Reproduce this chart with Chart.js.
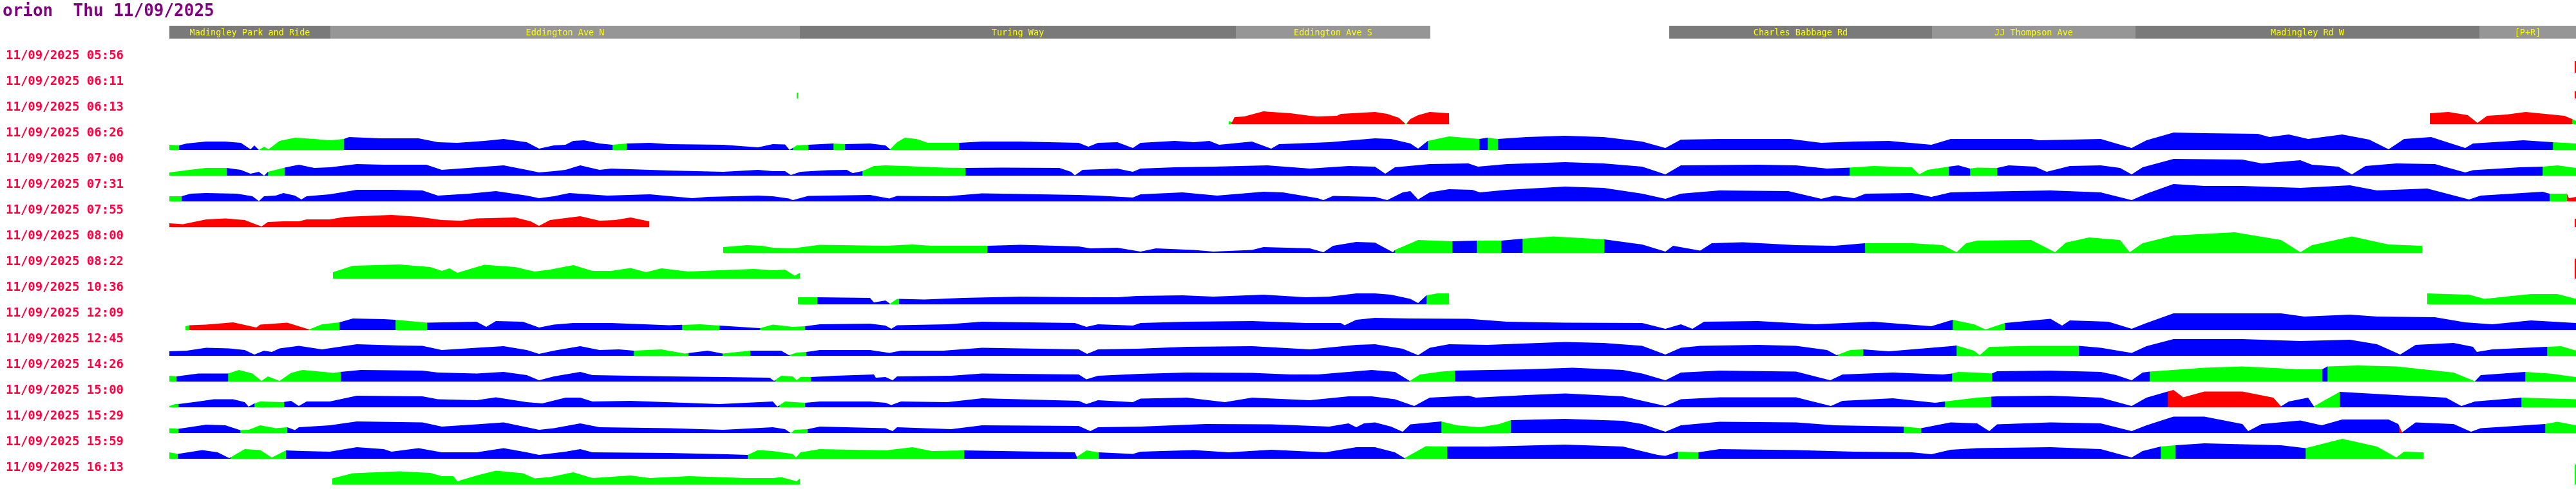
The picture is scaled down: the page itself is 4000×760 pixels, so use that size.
<!DOCTYPE html>
<html>
<head>
<meta charset="utf-8">
<script src="https://cdn.jsdelivr.net/npm/chart.js@4.4.1/dist/chart.umd.min.js"></script>
<style>
  html, body { margin: 0; padding: 0; background: #fff; }
</style>
</head>
<body>
<canvas id="busChart" width="4000" height="760"></canvas>
<script>
const chartTitle = "orion  Thu 11/09/2025";

const tripLabels = [
  "11/09/2025 05:56", "11/09/2025 06:11", "11/09/2025 06:13", "11/09/2025 06:26",
  "11/09/2025 07:00", "11/09/2025 07:31", "11/09/2025 07:55", "11/09/2025 08:00",
  "11/09/2025 08:22", "11/09/2025 10:36", "11/09/2025 12:09", "11/09/2025 12:45",
  "11/09/2025 14:26", "11/09/2025 15:00", "11/09/2025 15:29", "11/09/2025 15:59",
  "11/09/2025 16:13"
];

// route sections (distance along route)
const stopNames = ["Madingley Park and Ride", "Eddington Ave N", "Turing Way", "Eddington Ave S",
  "Charles Babbage Rd", "JJ Thompson Ave", "Madingley Rd W", "[P+R]"];
const stopFrom = [0, 250, 979, 1656, 2329, 2737, 3053, 3587];
const stopTo = [250, 979, 1656, 1958, 2737, 3053, 3587, 3737];

// each trip: [distance, speed] points, and status runs [from, to, status]
const p0556 = [[3735, 18], [3737, 18]];
const r0556 = [[3735, 3737, "R"]];

const p0611 = [[974, 9], [976, 9], [3735, 11], [3737, 11]];
const r0611 = [[974, 976, "G"], [3735, 3737, "R"]];

const p0613 = [[1645, 5], [1650, 3], [1654, 11], [1669, 12], [1699, 20], [1711, 19], [1741, 17], [1771, 13], [1783, 12], [1813, 13], [1819, 16], [1872, 19], [1891, 16], [1909, 10], [1920, 0], [1927, 8], [1939, 14], [1957, 19], [1987, 17],
  [3510, 17], [3539, 19], [3569, 14], [3584, 2], [3599, 13], [3629, 15], [3659, 19], [3689, 16], [3719, 13], [3731, 8], [3737, 5]];
const r0613 = [[1645, 1649, "G"], [1649, 1918, "R"], [1918, 1922, "G"], [1922, 1987, "R"], [3510, 3731, "R"], [3731, 3737, "G"]];

const p0626 = [[0, 8], [15, 7], [27, 10], [57, 13], [87, 13], [111, 11], [126, 1], [132, 7], [139, 0], [147, 5], [154, 1], [171, 14], [195, 19], [225, 17], [249, 15], [271, 17], [279, 20], [327, 18], [387, 18], [417, 12], [447, 11], [489, 14], [519, 17], [555, 12], [574, 2], [597, 7], [615, 8], [627, 14], [644, 15], [668, 10], [688, 8], [710, 10], [746, 11], [776, 9], [860, 8], [914, 4], [937, 9],
  [956, 8.5], [963, 0], [968, 3], [974, 7], [992, 8], [1031, 10], [1049, 9], [1088, 10], [1112, 7], [1119, 1], [1130, 12], [1142, 19], [1160, 17], [1178, 11], [1226, 11], [1262, 13], [1322, 13], [1412, 11], [1427, 5], [1442, 11], [1472, 12], [1496, 3], [1508, 11], [1561, 14], [1591, 12], [1615, 14], [1630, 8], [1681, 13], [1711, 2], [1723, 9], [1801, 12], [1872, 18],
  [1897, 17], [1927, 10], [1939, 2], [1954, 14], [1987, 21], [2034, 17], [2047, 19], [2063, 17], [2107, 20], [2167, 22], [2227, 20], [2287, 13], [2323, 3], [2347, 16], [2407, 17], [2517, 17], [2565, 11], [2616, 13], [2670, 14], [2736, 8], [2766, 17], [2807, 17],
  [2891, 17], [2903, 15], [2999, 17], [3023, 10], [3047, 3], [3070, 15], [3112, 27], [3160, 26], [3243, 25], [3261, 20], [3291, 24], [3321, 17], [3374, 24], [3416, 16], [3446, 1], [3470, 17], [3512, 20], [3565, 3], [3577, 10], [3655, 15], [3701, 12], [3737, 10]];
const r0626 = [[0, 15, "G"], [15, 139, "B"], [139, 271, "G"], [271, 688, "B"], [688, 710, "G"], [710, 968, "B"], [968, 992, "G"], [992, 1031, "B"], [1031, 1049, "G"], [1049, 1119, "B"], [1119, 1226, "G"], [1226, 1954, "B"], [1954, 2034, "G"], [2034, 2047, "B"], [2047, 2063, "G"], [2063, 3701, "B"], [3701, 3737, "G"]];

const p0700 = [[0, 5], [27, 8.5], [57, 12], [89, 12], [111, 9], [126, 3], [139, 6], [147, 0], [153, 6], [179, 12.5], [201, 17], [225, 12], [249, 13], [291, 18], [333, 17], [399, 17], [423, 9], [477, 13], [519, 16], [555, 9], [574, 5], [597, 7], [615, 9], [638, 16], [668, 9], [686, 11], [776, 8], [860, 6], [914, 9], [937, 7],
  [956, 7], [965, 1], [980, 6], [1022, 8.5], [1052, 9], [1061, 4], [1076, 7], [1094, 15], [1112, 16], [1142, 15], [1202, 12.5], [1236, 12], [1292, 12.5], [1382, 12], [1400, 6], [1406, 0.5], [1418, 9], [1472, 11], [1496, 6], [1508, 11], [1561, 13], [1621, 14], [1705, 16], [1771, 11], [1831, 15], [1872, 14],
  [1888, 3], [1903, 13], [1957, 18], [2017, 19], [2032, 14], [2077, 18], [2167, 21], [2227, 19], [2287, 14], [2323, 2], [2347, 16], [2467, 17], [2526, 16], [2574, 11], [2609, 12.5], [2646, 15], [2706, 13], [2717, 2], [2730, 9], [2763, 14], [2778, 16], [2796, 11], [2807, 12.5],
  [2838, 12], [2856, 16], [2897, 14], [2915, 6], [2951, 15], [2999, 16], [3029, 12], [3047, 2], [3064, 13], [3112, 26], [3219, 25], [3249, 19], [3309, 24], [3327, 17], [3368, 14], [3389, 2], [3410, 15], [3458, 19], [3518, 18], [3565, 5], [3577, 8.5], [3649, 13], [3685, 14], [3708, 16], [3737, 12]];
const r0700 = [[0, 89, "G"], [89, 153, "B"], [153, 179, "G"], [179, 1076, "B"], [1076, 1236, "G"], [1236, 2609, "B"], [2609, 2763, "G"], [2763, 2796, "B"], [2796, 2838, "G"], [2838, 3685, "B"], [3685, 3737, "G"]];

const p0731 = [[0, 8], [19, 8], [33, 12], [57, 13], [105, 12], [129, 8], [139, 0.5], [147, 8], [165, 9], [177, 13], [195, 9], [205, 3], [213, 8], [249, 11], [291, 18], [345, 18], [393, 17], [417, 9], [465, 12], [507, 16], [555, 9], [574, 5], [597, 8], [621, 13], [680, 9], [746, 11], [812, 5], [836, 7], [914, 9], [937, 8],
  [962, 4.5], [968, 2], [992, 8.5], [1022, 9], [1088, 10], [1118, 4.5], [1130, 8.5], [1208, 8], [1262, 12.5], [1412, 10], [1442, 9], [1496, 6], [1508, 11], [1573, 14], [1627, 9], [1699, 15], [1729, 14], [1783, 5], [1792, 2], [1807, 8.5], [1872, 7],
  [1891, 2], [1915, 14], [1927, 16], [1939, 3], [1957, 14], [1987, 19], [2023, 18], [2035, 14], [2077, 18], [2167, 23], [2227, 21], [2287, 12], [2323, 4], [2347, 12], [2407, 17], [2514, 16], [2565, 4], [2586, 9], [2616, 5], [2634, 12], [2706, 13], [2736, 7], [2766, 14], [2807, 15],
  [2921, 17], [2999, 14], [3047, 2], [3070, 12], [3112, 27], [3160, 24], [3219, 24], [3309, 21], [3386, 25], [3428, 17], [3506, 20], [3571, 3], [3589, 9], [3685, 15], [3696, 12], [3723, 12], [3726, 5], [3737, 7]];
const r0731 = [[0, 19, "G"], [19, 3696, "B"], [3696, 3723, "G"], [3723, 3737, "R"]];

const p0755 = [[0, 6], [21, 4.5], [57, 12], [87, 13.5], [117, 11], [143, 1], [153, 8], [177, 9], [201, 9], [213, 12], [249, 12], [273, 16], [345, 19], [387, 16], [423, 11], [453, 10], [477, 13.5], [537, 15], [561, 9], [574, 2], [591, 11], [638, 17], [668, 10], [692, 11], [716, 15], [745, 9],
  [3735, 13], [3737, 13]];
const r0755 = [[0, 745, "R"], [3735, 3737, "R"]];

const p0800 = [[860, 9], [896, 12], [920, 11], [937, 8], [968, 7], [1010, 12.5], [1112, 11], [1154, 13], [1184, 11], [1270, 11], [1322, 12.5], [1412, 10], [1430, 7], [1472, 8], [1508, 2], [1532, 7], [1591, 4.5], [1621, 2], [1681, 4.5], [1699, 9], [1771, 7], [1792, 1], [1807, 11], [1843, 17], [1872, 16],
  [1885, 9], [1900, 1], [1903, 4.5], [1939, 20], [1992, 18], [2030, 19], [2068, 19], [2101, 22], [2149, 25.5], [2228, 21], [2287, 13], [2323, 2], [2335, 11], [2377, 3.5], [2395, 15], [2443, 16.5], [2526, 12], [2586, 11], [2633, 15], [2706, 15], [2754, 12], [2775, 1], [2790, 15], [2807, 19],
  [2891, 20], [2928, 1], [2945, 16], [2981, 24], [3029, 20], [3044, 1], [3064, 15], [3112, 27], [3207, 32], [3279, 20], [3309, 1], [3327, 12], [3389, 25.5], [3446, 13], [3498, 11]];
const r0800 = [[860, 1270, "G"], [1270, 1903, "B"], [1903, 1992, "G"], [1992, 2030, "B"], [2030, 2068, "G"], [2068, 2101, "B"], [2101, 2228, "G"], [2228, 2633, "B"], [2633, 3498, "G"]];

const p0822 = [[254, 10], [285, 20], [357, 22], [405, 18], [423, 12], [435, 16], [447, 9], [489, 21.5], [537, 18], [567, 11], [591, 14], [627, 21], [657, 12], [686, 12], [716, 16.5], [740, 10], [764, 16], [806, 11], [854, 13], [908, 15], [937, 13], [956, 14], [971, 4.5], [979, 9],
  [3735, 31], [3737, 31]];
const r0822 = [[254, 979, "G"], [3735, 3737, "R"]];

const p1036 = [[976, 11], [1006, 11], [1088, 10], [1094, 3], [1112, 6], [1119, 1], [1130, 8.5], [1172, 7.5], [1232, 10], [1322, 12], [1424, 11], [1472, 11], [1502, 13], [1573, 14], [1621, 12], [1699, 15], [1765, 11], [1801, 12], [1843, 17], [1872, 17], [1897, 15], [1927, 8.5], [1939, 2], [1952, 14], [1969, 17], [1987, 17],
  [3506, 17], [3536, 16], [3571, 15], [3595, 8.5], [3637, 13], [3667, 16], [3708, 16], [3737, 8.5]];
const r1036 = [[976, 1006, "G"], [1006, 1119, "B"], [1119, 1133, "G"], [1133, 1952, "B"], [1952, 1987, "G"], [3506, 3737, "G"]];

const p1209 = [[25, 6], [31, 7.5], [57, 8.5], [99, 12], [135, 4], [141, 8.5], [183, 11.5], [217, 1], [237, 9], [264, 12], [285, 18], [333, 17], [351, 16], [400, 11.5], [477, 13], [492, 5], [507, 14], [549, 13], [574, 4], [597, 8.5], [627, 11], [686, 11], [776, 7.5], [824, 9], [854, 7], [917, 3], [937, 8.5],
  [968, 5], [987, 6], [1010, 9], [1088, 10], [1112, 7], [1121, 2], [1130, 7.5], [1208, 9], [1262, 13], [1406, 11], [1424, 5], [1442, 9], [1496, 7], [1508, 11], [1580, 13], [1681, 14], [1765, 11], [1819, 11], [1825, 7.5], [1843, 16], [1872, 19],
  [1927, 18], [2017, 17.5], [2077, 13], [2167, 11.5], [2287, 11], [2323, 2], [2347, 9], [2365, 2], [2383, 13], [2467, 14], [2556, 9], [2646, 13], [2736, 6], [2769, 16], [2802, 9], [2820, 1], [2850, 11],
  [2921, 17.5], [2939, 7], [2951, 15], [3011, 13], [3047, 2], [3070, 11], [3112, 26], [3279, 26], [3315, 21], [3386, 24], [3428, 21], [3518, 20], [3565, 12], [3607, 9], [3667, 15], [3737, 11]];
const r1209 = [[25, 31, "G"], [31, 217, "R"], [217, 264, "G"], [264, 351, "B"], [351, 400, "G"], [400, 796, "B"], [796, 854, "G"], [854, 917, "B"], [917, 987, "G"], [987, 2769, "B"], [2769, 2850, "G"], [2850, 3737, "B"]];

const p1245 = [[0, 7], [27, 8], [57, 12.5], [93, 11.5], [117, 9], [132, 2], [147, 8], [159, 6], [171, 11.5], [201, 15.5], [237, 10], [291, 18], [357, 16], [393, 15.5], [423, 9], [477, 12.5], [519, 15], [555, 9], [574, 3], [597, 8], [638, 15], [668, 9], [698, 10], [721, 8], [764, 10], [800, 3.5], [836, 8], [859, 3.5], [902, 8], [937, 8],
  [950, 8], [962, 1], [974, 5], [989, 6], [1010, 9], [1088, 9], [1118, 4.5], [1136, 8], [1202, 8], [1262, 12.5], [1412, 10], [1425, 3], [1442, 10], [1502, 11], [1580, 14], [1681, 15], [1771, 10], [1843, 17], [1872, 18],
  [1915, 11], [1939, 1], [1957, 12.5], [1987, 18], [2047, 17], [2167, 21.5], [2227, 20], [2287, 15.5], [2323, 2], [2347, 12.5], [2377, 15.5], [2467, 17], [2526, 15.5], [2574, 9], [2589, 1], [2610, 9], [2630, 10], [2670, 7], [2706, 10], [2766, 15], [2775, 16], [2802, 8], [2811, 1], [2826, 14],
  [2891, 15.5], [2965, 15.5], [2999, 12.5], [3047, 4.5], [3070, 15], [3112, 26], [3219, 26], [3309, 23], [3386, 25], [3428, 18], [3464, 2], [3488, 17], [3547, 20], [3577, 14], [3583, 6], [3607, 10], [3692, 14], [3714, 15], [3737, 8]];
const r1245 = [[0, 721, "B"], [721, 806, "G"], [806, 859, "B"], [859, 902, "G"], [902, 963, "B"], [963, 989, "G"], [989, 2591, "B"], [2591, 2630, "G"], [2630, 2775, "B"], [2775, 2965, "G"], [2965, 3692, "B"], [3692, 3737, "G"]];

const p1426 = [[0, 9], [11, 8], [45, 12.5], [91, 12.5], [108, 18], [129, 12.5], [143, 1], [153, 8], [171, 1], [189, 13.5], [207, 18], [255, 13.5], [266, 15], [297, 18], [393, 17], [417, 14], [477, 12.5], [519, 15], [555, 10], [574, 2], [597, 8], [638, 15], [657, 10], [776, 8], [860, 7],
  [932, 6], [939, 1], [950, 9], [968, 8], [974, 2], [980, 7], [996, 7], [1034, 9], [1094, 11], [1097, 6], [1112, 7], [1123, 2], [1130, 8], [1214, 9], [1262, 12.5], [1412, 11], [1424, 3.5], [1442, 9], [1508, 12], [1580, 14], [1681, 13.5], [1741, 11], [1783, 11], [1831, 15],
  [1867, 18], [1903, 15], [1926, 1], [1942, 11], [1975, 15.5], [1996, 17], [2107, 19], [2179, 21.5], [2257, 18], [2287, 12.5], [2323, 2], [2347, 14], [2407, 17], [2526, 15.5], [2579, 2], [2598, 11], [2676, 14], [2754, 11], [2768, 12.5], [2778, 15], [2807, 14],
  [2830, 12.5], [2838, 16], [2921, 17], [2999, 15], [3023, 10], [3047, 2], [3064, 14], [3075, 15.5], [3160, 21.5], [3219, 23.5], [3309, 19], [3343, 19], [3351, 23.5], [3398, 25], [3458, 23.5], [3547, 14], [3580, 0.5], [3589, 10], [3658, 15], [3696, 12.5], [3737, 7]];
const r1426 = [[0, 11, "G"], [11, 91, "B"], [91, 266, "G"], [266, 941, "B"], [941, 996, "G"], [996, 1926, "B"], [1926, 1996, "G"], [1996, 2768, "B"], [2768, 2830, "G"], [2830, 3075, "B"], [3075, 3343, "G"], [3343, 3351, "B"], [3351, 3580, "G"], [3580, 3658, "B"], [3658, 3737, "G"]];

const p1500 = [[0, 2], [9, 5], [14, 5], [45, 9], [69, 12.5], [99, 12.5], [117, 8], [123, 1], [132, 6], [141, 9], [177, 8], [189, 10], [201, 2], [213, 9], [249, 9], [291, 18], [393, 17], [417, 12.5], [477, 11], [507, 15.5], [555, 8], [579, 6], [615, 15], [638, 15], [657, 9], [716, 10], [854, 5], [937, 9],
  [944, 1], [956, 9], [987, 7], [1010, 9], [1088, 9], [1112, 7], [1121, 3.5], [1136, 9], [1208, 8], [1262, 14], [1412, 10], [1424, 5], [1442, 11], [1496, 8], [1508, 13.5], [1580, 15], [1639, 8], [1681, 15], [1771, 11], [1831, 17],
  [1867, 17], [1903, 12.5], [1933, 2], [1957, 15], [2017, 18], [2029, 15], [2107, 19], [2167, 21.5], [2257, 17], [2323, 2], [2347, 12.5], [2407, 15.5], [2526, 15.5], [2580, 2], [2598, 10], [2676, 14], [2742, 7], [2757, 9], [2807, 15],
  [2838, 17], [2921, 18], [2999, 15], [3047, 2], [3070, 15], [3103, 24.5], [3112, 27], [3127, 15.5], [3160, 24.5], [3219, 24.5], [3267, 15], [3279, 1.5], [3291, 9], [3321, 15], [3330, 1.5], [3370, 24], [3458, 19], [3535, 15], [3559, 2], [3580, 9], [3652, 15], [3737, 12.5]];
const r1500 = [[0, 14, "G"], [14, 132, "B"], [132, 178, "G"], [178, 947, "B"], [947, 987, "G"], [987, 2757, "B"], [2757, 2829, "G"], [2829, 3103, "B"], [3103, 3279, "R"], [3279, 3330, "B"], [3330, 3370, "G"], [3370, 3652, "B"], [3652, 3737, "G"]];

const p1529 = [[0, 7.5], [14, 6.5], [57, 13], [87, 12], [110, 4.5], [123, 5], [141, 12], [165, 7.5], [183, 9], [195, 4.5], [201, 9], [249, 12], [291, 18], [393, 16.5], [423, 10], [477, 13.5], [519, 16.5], [555, 9], [574, 5], [597, 7.5], [638, 15], [668, 9], [776, 7.5], [860, 5], [937, 9],
  [956, 6], [965, 0], [971, 5], [991, 6], [1010, 10], [1112, 7.5], [1123, 3], [1130, 9], [1214, 6], [1262, 12], [1412, 11], [1430, 3], [1442, 9], [1508, 10], [1609, 14], [1711, 13.5], [1801, 10], [1831, 15], [1843, 9], [1855, 15], [1872, 16.5],
  [1897, 10], [1915, 2], [1927, 13.5], [1975, 18], [1999, 12], [2035, 9], [2065, 14], [2083, 20], [2167, 22], [2257, 19], [2287, 14], [2323, 2], [2347, 12], [2407, 17.5], [2526, 16.5], [2586, 12], [2693, 10], [2720, 7.5], [2766, 16.5], [2807, 15],
  [2826, 3], [2838, 13.5], [2921, 16.5], [2999, 15], [3047, 3], [3070, 12], [3112, 25.5], [3160, 25.5], [3219, 14], [3228, 3], [3249, 14], [3309, 19.5], [3342, 12], [3374, 21], [3446, 21], [3461, 14], [3467, 1], [3488, 16.5], [3547, 14], [3574, 2], [3589, 7.5], [3689, 14], [3708, 17.5], [3737, 12]];
const r1529 = [[0, 14, "G"], [14, 110, "B"], [110, 183, "G"], [183, 965, "B"], [965, 991, "G"], [991, 1975, "B"], [1975, 2083, "G"], [2083, 2693, "B"], [2693, 2720, "G"], [2720, 3462, "B"], [3462, 3467, "R"], [3467, 3689, "B"], [3689, 3737, "G"]];

const p1559 = [[0, 10], [13, 7.5], [51, 13.5], [75, 10], [93, 1], [117, 15], [141, 13.5], [159, 2], [177, 11], [181, 13], [207, 12], [249, 11], [291, 18], [333, 15], [345, 11], [387, 16.5], [423, 10], [477, 10], [519, 16.5], [555, 10], [574, 6], [615, 11], [638, 15], [657, 10], [776, 9], [866, 7], [898, 6], [914, 13.5], [937, 12],
  [968, 7.5], [973, 2], [980, 10], [1010, 15], [1112, 13], [1154, 18], [1184, 12], [1234, 13], [1352, 11], [1406, 10], [1409, 3], [1424, 13], [1443, 10], [1496, 7.5], [1508, 11], [1591, 13.5], [1645, 10], [1711, 14], [1795, 10], [1843, 18], [1872, 18],
  [1903, 10], [1918, 1], [1951, 19.5], [1984, 19], [2047, 19], [2167, 22], [2257, 19], [2311, 6], [2323, 4.5], [2342, 11], [2374, 10], [2407, 15], [2526, 13.5], [2616, 11], [2706, 10], [2736, 7], [2766, 14], [2807, 16.5],
  [2921, 18], [2999, 15], [3047, 2], [3064, 12], [3092, 19], [3115, 21], [3160, 24], [3279, 21], [3317, 16.5], [3374, 31], [3428, 19], [3458, 2], [3470, 11], [3500, 10]];
const r1559 = [[0, 13, "G"], [13, 95, "B"], [95, 181, "G"], [181, 898, "B"], [898, 1234, "G"], [1234, 1409, "B"], [1409, 1443, "G"], [1443, 1918, "B"], [1918, 1984, "G"], [1984, 2342, "B"], [2342, 2374, "G"], [2374, 3092, "B"], [3092, 3115, "G"], [3115, 3317, "B"], [3317, 3500, "G"]];

const p1613 = [[253, 9.5], [285, 17.5], [357, 20.5], [405, 18], [423, 13], [441, 13], [447, 5], [477, 14], [507, 21.5], [549, 17.5], [567, 9.5], [591, 11.5], [627, 19], [657, 10], [716, 14], [746, 10], [806, 13], [896, 10], [937, 10], [950, 11.5], [974, 5], [979, 9.5],
  [3735, 31], [3737, 31]];
const r1613 = [[253, 979, "G"], [3735, 3737, "G"]];

const profiles = [p0556, p0611, p0613, p0626, p0700, p0731, p0755, p0800, p0822, p1036, p1209, p1245, p1426, p1500, p1529, p1559, p1613];
const statusRuns = [r0556, r0611, r0613, r0626, r0700, r0731, r0755, r0800, r0822, r1036, r1209, r1245, r1426, r1500, r1529, r1559, r1613];

const ROW_GAP = 40;     // speed units between trip baselines
const Y_MAX = 113;      // axis range above the first trip baseline
const Y_MIN = -647;
const TITLE_LEVEL = 88;
const HEADER_TOP = 73;
const HEADER_BOTTOM = 53;
const LABEL_RISE = 26;

const statusColours = { G: "#00ff00", B: "#0000ff", R: "#ff0000" };

function speedAt(profile, d) {
  if (d <= profile[0][0]) return profile[0][1];
  for (let k = 1; k < profile.length; k++) {
    const [d1, h1] = profile[k];
    if (d <= d1) {
      const [d0, h0] = profile[k - 1];
      return h0 + (h1 - h0) * (d - d0) / (d1 - d0);
    }
  }
  return profile[profile.length - 1][1];
}

let datasets = [];
profiles.forEach((profile, i) => {
  const base = -ROW_GAP * i;
  statusRuns[i].forEach(([from, to, status]) => {
    const end = to + 0.5; // tiny overlap so neighbouring runs meet cleanly
    let pts = [{ x: from, y: base + speedAt(profile, from) }];
    profile.forEach(([d, h]) => {
      if (d > from && d < end) pts.push({ x: d, y: base + h });
    });
    pts.push({ x: end, y: base + speedAt(profile, end) });
    datasets.push({
      data: pts,
      backgroundColor: statusColours[status],
      borderColor: "rgba(0,0,0,0)",
      borderWidth: 0,
      pointRadius: 0,
      tension: 0,
      fill: { value: base },
    });
  });
});

const routeText = {
  id: "routeText",
  afterDraw(chart) {
    const { ctx, scales: { x, y } } = chart;
    ctx.save();
    // title
    ctx.fillStyle = "#800080";
    ctx.font = 'bold 26px "DejaVu Sans Mono", monospace';
    ctx.textAlign = "left";
    ctx.textBaseline = "alphabetic";
    ctx.fillText(chartTitle, 4, y.getPixelForValue(TITLE_LEVEL));

    // route header bar
    const top = y.getPixelForValue(HEADER_TOP);
    const bottom = y.getPixelForValue(HEADER_BOTTOM);
    stopNames.forEach((name, k) => {
      const left = x.getPixelForValue(stopFrom[k]);
      const right = x.getPixelForValue(stopTo[k]);
      ctx.fillStyle = k % 2 === 0 ? "#7a7a7a" : "#969696";
      ctx.fillRect(left, top, right - left, bottom - top);
      ctx.fillStyle = "#ffff00";
      ctx.font = '13.5px "DejaVu Sans Mono", monospace';
      ctx.textAlign = "center";
      ctx.textBaseline = "middle";
      ctx.fillText(name, (left + right) / 2, (top + bottom) / 2 + 1);
    });

    // trip start labels
    ctx.fillStyle = "#ff0040";
    ctx.font = 'bold 19px "DejaVu Sans Mono", monospace';
    ctx.textAlign = "left";
    ctx.textBaseline = "middle";
    tripLabels.forEach((label, i) => {
      ctx.fillText(label, 9, y.getPixelForValue(-ROW_GAP * i + LABEL_RISE));
    });
    ctx.restore();
  },
};

const busChart = new Chart(document.getElementById("busChart"), {
  type: "line",
  data: { datasets: datasets },
  options: {
    responsive: false,
    animation: false,
    devicePixelRatio: 1,
    events: [],
    layout: { padding: { left: 263, right: 0, top: 0, bottom: 0 } },
    scales: {
      x: { type: "linear", min: 0, max: 3737, display: false },
      y: { type: "linear", min: Y_MIN, max: Y_MAX, display: false },
    },
    plugins: {
      legend: { display: false },
      tooltip: { enabled: false },
      title: { display: false },
    },
  },
  plugins: [routeText],
});
</script>
</body>
</html>
